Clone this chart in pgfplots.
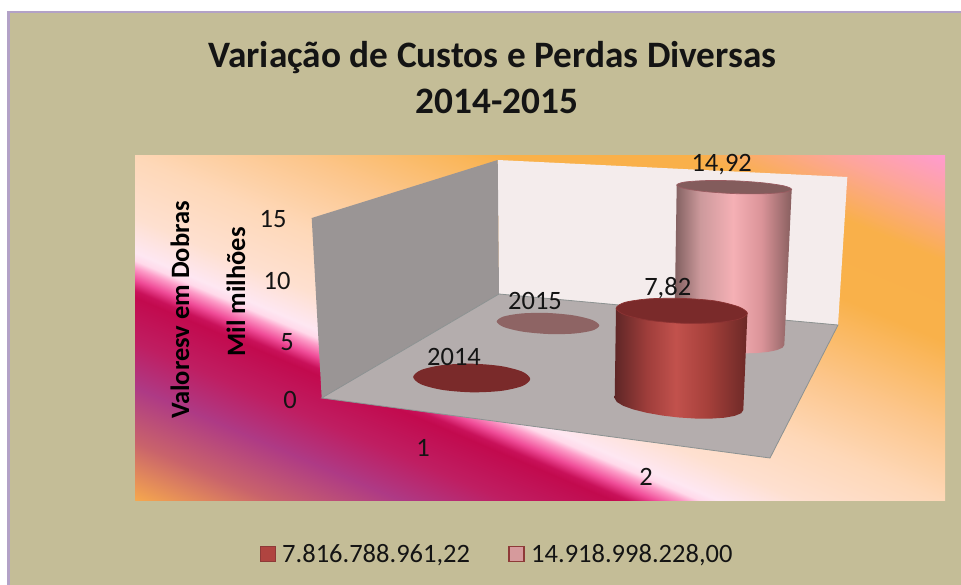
\documentclass[border=0pt]{standalone}
\usepackage{fontspec}
\setmainfont{Carlito}
\usepackage{pgfplots}
\pgfplotsset{compat=1.18}
\definecolor{panel}{HTML}{C4BD97}
\definecolor{frameline}{HTML}{B3A2C7}
\definecolor{wallL}{HTML}{9A9595}
\definecolor{wallB}{HTML}{F4ECEC}
\definecolor{floorc}{HTML}{B4ADAD}
\definecolor{edgec}{HTML}{8C9292}
\definecolor{red1}{HTML}{7A2A2A}
\definecolor{pink1}{HTML}{8E6464}
\definecolor{legA}{HTML}{B04440}
\definecolor{legB}{HTML}{D69A9C}
\definecolor{legE}{HTML}{8E3A38}
\definecolor{rimR}{HTML}{8C3333}
\definecolor{rimP}{HTML}{995C61}
\pgfdeclarehorizontalshading{cylred}{100bp}{
  rgb(0bp)=(0.37,0.15,0.15);
  rgb(25bp)=(0.37,0.15,0.15);
  rgb(37bp)=(0.62,0.24,0.23);
  rgb(48bp)=(0.76,0.32,0.30);
  rgb(60bp)=(0.65,0.25,0.23);
  rgb(75bp)=(0.42,0.16,0.15);
  rgb(100bp)=(0.42,0.16,0.15)}
\pgfdeclarehorizontalshading{cylpink}{100bp}{
  rgb(0bp)=(0.50,0.37,0.37);
  rgb(25bp)=(0.50,0.37,0.37);
  rgb(36bp)=(0.80,0.60,0.61);
  rgb(50bp)=(0.96,0.69,0.71);
  rgb(62bp)=(0.86,0.58,0.60);
  rgb(75bp)=(0.53,0.37,0.37);
  rgb(100bp)=(0.53,0.37,0.37)}
\pgfdeclarehorizontalshading{plotbg}{1000bp}{
  rgb(0bp)=(1.000,0.608,0.816);
  rgb(43.1bp)=(0.992,0.647,0.608);
  rgb(98.1bp)=(0.976,0.690,0.290);
  rgb(171.5bp)=(0.976,0.694,0.290);
  rgb(254bp)=(0.988,0.776,0.549);
  rgb(318.2bp)=(0.996,0.847,0.722);
  rgb(373.2bp)=(0.996,0.878,0.816);
  rgb(405.3bp)=(0.996,0.906,0.949);
  rgb(412.6bp)=(1.000,0.851,0.918);
  rgb(419bp)=(0.992,0.612,0.784);
  rgb(430bp)=(0.941,0.298,0.596);
  rgb(440.1bp)=(0.788,0.067,0.353);
  rgb(446.5bp)=(0.761,0.039,0.306);
  rgb(487.8bp)=(0.749,0.118,0.384);
  rgb(529bp)=(0.682,0.227,0.522);
  rgb(579.5bp)=(0.788,0.388,0.420);
  rgb(632.7bp)=(0.965,0.659,0.306)}
\pgfplotsset{
  pix/.style={anchor=south west,scale only axis,hide axis,y dir=reverse,clip=true}
}
\tikzset{
  lab/.style={font=\fontsize{26.5}{26.5}\selectfont,anchor=base,inner sep=0pt,text=black!92},
  blab/.style={font=\fontsize{26.5}{26.5}\bfseries\selectfont,anchor=base,inner sep=0pt,rotate=90,text=black},
  ttl/.style={font=\fontsize{37.3}{37.3}\bfseries\selectfont,anchor=base,inner sep=0pt,text=black!92}
}
\begin{document}
\begin{tikzpicture}
\useasboundingbox (0pt,0pt) rectangle (961pt,585pt);
% panel and frame
\begin{axis}[pix,at={(0pt,0pt)},width=961pt,height=585pt,xmin=0,xmax=961,ymin=0,ymax=585]
\addplot[draw=none,fill=frameline] coordinates {(7,11) (961,11) (961,585) (7,585)} --cycle;
\addplot[draw=none,fill=panel] coordinates {(9.5,13) (961,13) (961,585) (9.5,585)} --cycle;
\end{axis}
% gradient of the plot area
\begin{scope}
\clip (135pt,84.5pt) rectangle (945pt,429.5pt);
\node[rotate=-113,inner sep=0pt,outer sep=0pt] at (540pt,257.5pt) {\pgfuseshading{plotbg}};
\end{scope}
% chart
\begin{axis}[pix,at={(0pt,0pt)},width=961pt,height=585pt,xmin=0,xmax=961,ymin=0,ymax=585]
% walls and floor
\addplot[draw=none,fill=wallB] coordinates {(497.7,160) (847.3,177) (838,325) (499,294)} --cycle;
\addplot[draw=none,fill=wallL] coordinates {(311.7,218) (497.7,160) (499,294) (321.7,398)} --cycle;
\addplot[draw=edgec,line width=0.8pt,fill=floorc] coordinates {(321.7,398) (499,294) (838,325) (770,458)} --cycle;
% zero-height discs
\addplot[draw=none,fill=red1,smooth cycle] coordinates {(530.2,379) (522.4,386) (501,390.9) (471.7,392.3) (442.4,389.9) (421,384.3) (413.2,377) (421,370) (442.4,365.1) (471.7,363.7) (501,366.1) (522.4,371.7)};
\addplot[draw=none,fill=pink1,smooth cycle] coordinates {(599.3,325.5) (592.4,330.5) (573.65,333.6) (548,334) (522.35,331.6) (503.6,327) (496.7,321.5) (503.6,316.5) (522.35,313.4) (548,313) (573.65,315.4) (592.4,320)};
% pink cylinder
\addplot[draw=none,shading=cylpink] coordinates {(676.7,185) (674.3,339) (676.2,341.95) (681.7,344.9) (690.4,347.7) (701.8,350) (715.05,351.8) (729.3,353) (743.55,353.4) (756.8,353) (768.2,351.9) (776.9,350.1) (782.4,347.75) (784.3,345) (791.7,189.35)} --cycle;
\addplot[draw=rimP,line width=0.7pt,fill=pink1!92!black,smooth cycle] coordinates {(791.7,189.35) (784,192.26) (762.95,193.8) (734.2,193.6) (705.45,191.6) (684.4,188.5) (676.7,185.05) (684.4,182.1) (705.45,180.6) (734.2,180.8) (762.95,182.8) (784,185.9)};
% red cylinder
\addplot[draw=none,shading=cylred] coordinates {(616,308.3) (614.7,398.4) (616.9,402.04) (623.3,405.85) (633.5,409.5) (646.85,412.8) (662.35,415.55) (679,417.5) (695.65,418.55) (711.15,418.6) (724.5,417.7) (734.7,415.85) (741.1,413.24) (743.3,410) (747.4,313.3)} --cycle;
\addplot[draw=rimR,line width=0.7pt,fill=red1,smooth cycle] coordinates {(747.4,313.3) (738.6,319.2) (714.55,322.75) (681.7,323.2) (648.85,320.25) (624.8,314.8) (616,308.3) (624.8,302.4) (648.85,298.85) (681.7,298.4) (714.55,300.85) (738.6,306.8)};
% legend keys
\addplot[draw=legE,line width=1.2pt,fill=legA] coordinates {(260.5,546.5) (275.5,546.5) (275.5,561.5) (260.5,561.5)} --cycle;
\addplot[draw=legE,line width=1.5pt,fill=legB] coordinates {(509,546.5) (524,546.5) (524,561.5) (509,561.5)} --cycle;
% texts
\node[ttl] at (axis cs:492.5,67.5) {Variação de Custos e Perdas Diversas};
\node[ttl] at (axis cs:497,114) {2014-2015};
\node[lab] at (axis cs:721.7,172) {14,92};
\node[lab] at (axis cs:667.7,296) {7,82};
\node[lab] at (axis cs:535,309) {2015};
\node[lab] at (axis cs:454,365) {2014};
\node[lab] at (axis cs:273,228) {15};
\node[lab] at (axis cs:277,290) {10};
\node[lab] at (axis cs:287,350) {5};
\node[lab] at (axis cs:290,408) {0};
\node[lab] at (axis cs:423,456) {1};
\node[lab] at (axis cs:646,485) {2};
\node[blab] at (axis cs:189,310) {Valoresv em Dobras};
\node[blab] at (axis cs:245,292) {Mil milhões};
\node[lab,anchor=base west] at (axis cs:282,562) {7.816.788.961,22};
\node[lab,anchor=base west] at (axis cs:531,562) {14.918.998.228,00};
\end{axis}
\end{tikzpicture}
\end{document}
